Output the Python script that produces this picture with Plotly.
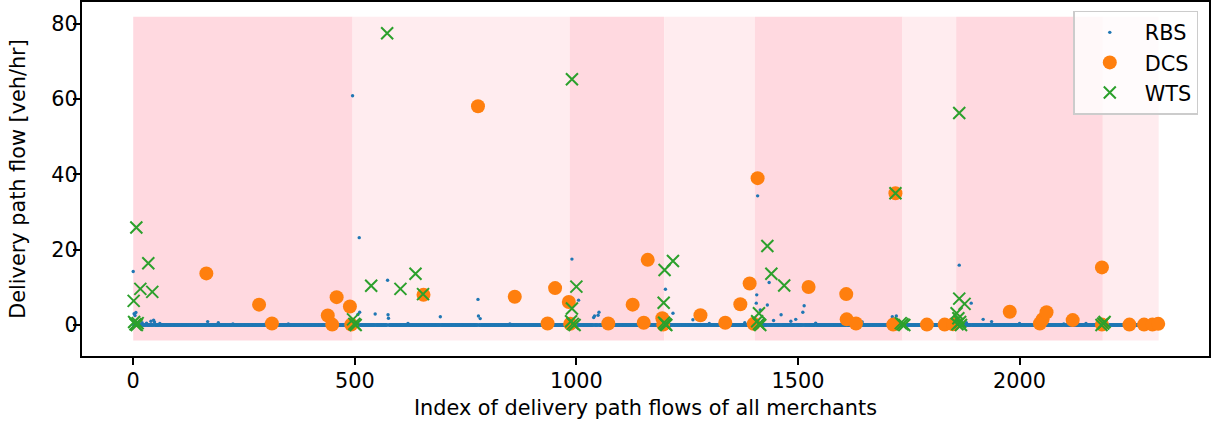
import plotly.graph_objects as go

# ---------------- data ----------------
RBS_COUNT = 2314  # number of delivery path flows (indices 0..2313)

# RBS: every index is a flow; values not listed here read as ~0
rbs_nonzero_index = [0, 2, 4, 6, 20, 30, 40, 46, 48, 60, 168, 192, 225, 300, 350,
                     495, 507, 510, 511, 546, 574, 575, 576, 620, 693, 778, 779, 783,
                     850, 990, 1005, 1039, 1041, 1049, 1051, 1080, 1150, 1201, 1218,
                     1263, 1300, 1380, 1406, 1407, 1409, 1415, 1420, 1431, 1435, 1445,
                     1462, 1484, 1495, 1511, 1514, 1540, 1600, 1645, 1713, 1722, 1864,
                     1880, 1891, 1918, 1937, 2000, 2050, 2100, 2150]
rbs_nonzero_value = [14.2, 3.0, 2.5, 3.3, 0.6, 0.5, 1.0, 1.3, 0.8, 0.4, 0.9, 0.6, 0.3, 0.4, 0.3,
                     60.9, 2.8, 23.2, 3.4, 2.9, 11.9, 2.7, 1.8, 0.4, 2.2, 6.8, 2.4, 1.7,
                     0.3, 17.5, 6.6, 2.0, 2.4, 2.6, 3.4, 0.4, 0.5, 9.5, 3.1,
                     1.4, 0.4, 0.6, 5.8, 8.0, 34.3, 4.0, 1.0, 5.3, 11.3, 1.2,
                     2.7, 1.0, 1.5, 3.4, 5.1, 0.5, 0.4, 0.8, 2.2, 2.4, 15.9,
                     0.6, 5.8, 1.5, 0.9, 0.4, 0.5, 0.3, 0.4]

dcs_index = [165, 284, 313, 439, 449, 459, 489, 492, 655, 778, 861, 935, 952, 983, 986,
             1072, 1127, 1152, 1161, 1194, 1196, 1280, 1336, 1370, 1391, 1400, 1409, 1524,
             1609, 1610, 1631, 1715, 1720, 1791, 1831, 1850, 1978, 2046, 2052, 2061, 2120,
             2186, 2186, 2248, 2281, 2300, 2313]
dcs_value = [13.7, 5.4, 0.4, 2.5, 0.1, 7.4, 4.9, 0.1, 8.0, 58.1, 7.5, 0.4, 9.8, 6.1, 0.3,
             0.4, 5.4, 0.6, 17.3, 1.8, 0.1, 2.6, 0.6, 5.5, 11.0, 0.3, 39.0, 10.1,
             8.2, 1.5, 0.4, 0.1, 35.0, 0.1, 0.1, 0.2, 3.5, 0.4, 1.5, 3.4, 1.3,
             15.3, 0.1, 0.1, 0.1, 0.1, 0.3]

wts_index = [1, 7, 16, 34, 43, 2, 5, 8, 10,
             496, 499, 502, 537, 573, 603, 637, 654,
             990, 1000, 990, 988, 992, 996,
             1199, 1218, 1197, 1198, 1201, 1203,
             1412, 1408, 1412, 1415, 1431, 1440, 1469,
             1720, 1732, 1736, 1740,
             1864, 1864, 1876, 1858, 1862, 1866, 1860, 1868,
             2189, 2185, 2192]
wts_value = [6.4, 25.9, 9.6, 16.4, 8.8, 0.8, 0.2, 0.0, 0.5,
             1.5, 0.3, 0.0, 10.4, 77.5, 9.6, 13.6, 8.2,
             65.3, 10.2, 4.4, 1.0, 0.3, 0.0,
             14.6, 17.0, 5.9, 0.6, 0.2, 0.0,
             3.1, 1.0, 0.3, 0.0, 21.0, 13.6, 10.5,
             35.0, 0.5, 0.2, 0.0,
             56.3, 7.0, 5.6, 3.1, 1.8, 0.8, 0.2, 0.0,
             0.4, 0.0, 0.8]

# merchant groups shown as alternating background bands
band_edges = [0, 495, 985, 1198, 1403, 1736, 1857, 2188, 2314]
band_shade = ["dark", "light", "dark", "light", "dark", "light", "dark", "light"]
band_low, band_high = -4.1, 81.9

x_ticks = [0, 500, 1000, 1500, 2000]
y_ticks = [0, 20, 40, 60, 80]

# ---------------- build RBS series ----------------
rbs_index = list(range(RBS_COUNT))
rbs_value = [0.0] * RBS_COUNT
for i, v in zip(rbs_nonzero_index, rbs_nonzero_value):
    rbs_value[i] = v

FONT = "DejaVu Sans"
FS = 20.8
shade_color = {"dark": "#ffd9e0", "light": "#ffecef"}

fig = go.Figure()

fig.add_trace(go.Scatter(x=rbs_index, y=rbs_value, mode="markers", name="RBS",
                         marker=dict(color="#1f77b4", size=3.4, line=dict(width=0))))
fig.add_trace(go.Scatter(x=dcs_index, y=dcs_value, mode="markers", name="DCS",
                         marker=dict(color="#ff7f0e", size=14, line=dict(width=0))))
fig.add_trace(go.Scatter(x=wts_index, y=wts_value, mode="markers", name="WTS",
                         marker=dict(color="#2ca02c", size=12, symbol="x-thin",
                                     line=dict(width=2, color="#2ca02c"))))

for k in range(len(band_shade)):
    fig.add_shape(type="rect", xref="x", yref="y",
                  x0=band_edges[k], x1=band_edges[k + 1], y0=band_low, y1=band_high,
                  fillcolor=shade_color[band_shade[k]], line=dict(width=0), layer="below")

axis_common = dict(showline=True, linecolor="black", linewidth=1.7, mirror=True,
                   ticks="outside", ticklen=7.3, tickwidth=1.7, tickcolor="black",
                   showgrid=False, zeroline=False,
                   tickfont=dict(family=FONT, size=FS, color="black"))

fig.update_layout(
    width=1211, height=427,
    margin=dict(l=82, r=2, t=2, b=71, autoexpand=False),
    paper_bgcolor="white", plot_bgcolor="white",
    font=dict(family=FONT, size=FS, color="black"),
    xaxis=dict(range=[-115.6, 2427.6], tickvals=x_ticks, automargin=False,
               ticklabelstandoff=-2,
               title=dict(text="Index of delivery path flows of all merchants",
                          font=dict(family=FONT, size=FS), standoff=8),
               **axis_common),
    yaxis=dict(range=[-8.24, 85.8], tickvals=y_ticks, automargin=False,
               ticklabelstandoff=-9,
               title=dict(text="Delivery path flow [veh/hr]",
                          font=dict(family=FONT, size=FS), standoff=20),
               **axis_common),
    showlegend=True,
    legend=dict(x=0.9905, y=0.975, xanchor="right", yanchor="top",
                bgcolor="rgba(255,255,255,0.8)", bordercolor="#cccccc", borderwidth=1.5,
                font=dict(family=FONT, size=FS, color="black"), itemwidth=60),
)

fig.write_html("out.html",
               config={"displayModeBar": False},
               post_script="document.body.style.margin='0';document.body.style.padding='0';"
                           "document.documentElement.style.overflow='hidden';")
